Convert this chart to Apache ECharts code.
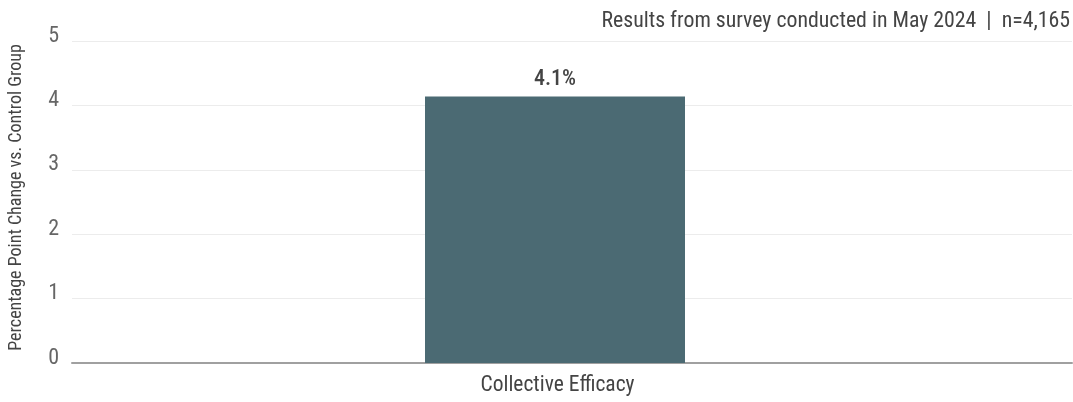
<!DOCTYPE html>
<html>
<head>
<meta charset="utf-8">
<script src="https://cdn.jsdelivr.net/npm/echarts@6/dist/echarts.min.js"></script>
<style>
html,body{margin:0;padding:0;background:#fff;}
#c{width:1073px;height:402px;}
</style>
</head>
<body>
<div id="c"></div>
<script>
const categories = ["Collective Efficacy"];
const values = [4.14];
const spacer = [null];
const yTicks = [0, 1, 2, 3, 4, 5];
const titleText = "Results from survey conducted in May 2024  |  n=4,165";
const yName = "Percentage Point Change vs. Control Group";

const FONT = "'Roboto Condensed','Liberation Sans Narrow','DejaVu Sans Condensed',sans-serif";
const chart = echarts.init(document.getElementById('c'), null, {renderer: 'canvas'});
chart.setOption({
  animation: false,
  textStyle: {fontFamily: FONT},
  title: {
    text: titleText,
    right: -2, top: 6,
    textStyle: {fontFamily: FONT, fontSize: 21.8, fontWeight: 'normal', color: '#444'}
  },
  grid: {left: 72, right: 1, top: 41, bottom: 39, containLabel: false, outerBoundsMode: 'none'},
  xAxis: {
    type: 'category',
    data: categories,
    axisLine: {show: true, lineStyle: {color: '#a0a0a0', width: 2}},
    axisTick: {show: false},
    axisLabel: {fontFamily: FONT, fontSize: 21.5, color: '#444', margin: 12, padding: [0, 29, 0, 0]}
  },
  yAxis: {
    type: 'value',
    min: yTicks[0], max: yTicks[yTicks.length - 1], interval: 1,
    name: yName,
    nameLocation: 'middle',
    nameGap: 47,
    nameTextStyle: {fontFamily: FONT, fontSize: 18, color: '#444', padding: [0, 0, 0, 9]},
    axisLine: {show: false},
    axisTick: {show: false},
    axisLabel: {fontFamily: FONT, fontSize: 22, color: '#666', margin: 13, verticalAlign: 'bottom', lineHeight: 10},
    splitLine: {lineStyle: {color: '#ececec', width: 1}}
  },
  series: [{
    type: 'bar',
    data: values,
    barWidth: 260,
    barGap: '0%',
    itemStyle: {color: '#4b6a73'},
    label: {
      show: true, position: 'top', distance: 6,
      formatter: p => p.value.toFixed(1) + '%',
      fontFamily: FONT, fontSize: 22, fontWeight: 500, color: '#444'
    }
  }, {
    type: 'bar',
    data: spacer,
    barWidth: 34,
    silent: true
  }]
});
</script>
</body>
</html>
